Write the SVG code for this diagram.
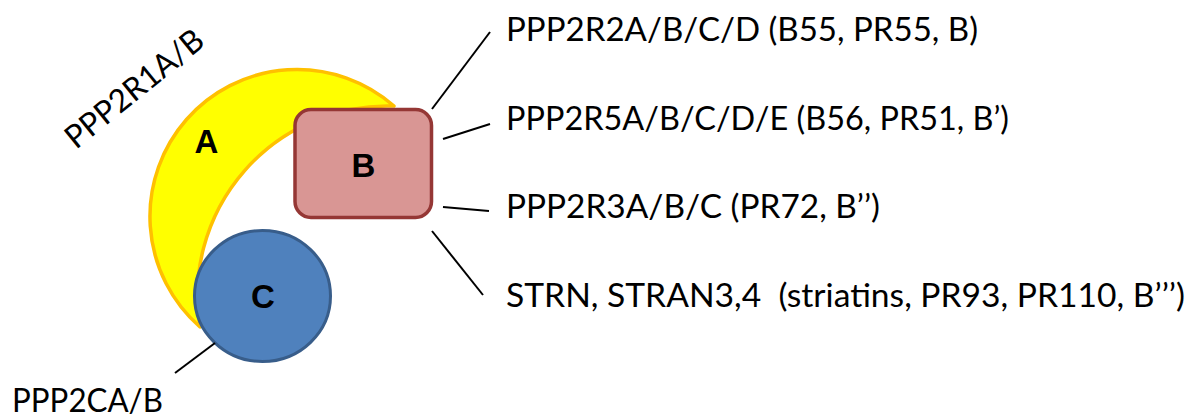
<svg xmlns="http://www.w3.org/2000/svg" width="1200" height="419" viewBox="0 0 1200 419">
  <style>
    .lbl { font-family: Lato, "Open Sans", "Liberation Sans", sans-serif; font-size: 32px; fill: #000; white-space: pre; }
    .sub { font-family: "Liberation Sans", Arial, sans-serif; font-weight: bold; font-size: 33px; fill: #000; text-anchor: middle; }
    .conn { stroke: #000; stroke-width: 2; fill: none; }
  </style>
  <rect width="1200" height="419" fill="#fff"/>

  <g id="node-A">
    <path d="M200,327 A146,146 0 1 1 394,106 A190,190 0 0 0 200,327 Z" fill="#FFFF00" stroke="#FFC000" stroke-width="3.5" stroke-linejoin="round"/>
    <text class="sub" x="206.5" y="152.5">A</text>
    <text class="lbl" x="76" y="150" transform="rotate(-39 76 150)" textLength="168" lengthAdjust="spacingAndGlyphs">PPP2R1A/B</text>
  </g>

  <g id="node-B">
    <rect x="295" y="109.5" width="136.5" height="108" rx="16" ry="16" fill="#D99694" stroke="#953735" stroke-width="3.5"/>
    <text class="sub" x="363.5" y="176.5">B</text>
  </g>

  <g id="node-C">
    <ellipse cx="262.5" cy="296" rx="68" ry="65.5" fill="#4F81BD" stroke="#385D8A" stroke-width="3"/>
    <text class="sub" x="263" y="308">C</text>
  </g>

  <g id="connectors">
    <line class="conn" x1="432" y1="109" x2="490" y2="32"/>
    <line class="conn" x1="443" y1="139" x2="490" y2="124"/>
    <line class="conn" x1="443" y1="207" x2="489" y2="211"/>
    <line class="conn" x1="432" y1="231" x2="483" y2="295"/>
    <line class="conn" x1="175" y1="373" x2="215" y2="343"/>
  </g>

  <g id="label-PPP2CA">
    <text class="lbl" x="12" y="412" textLength="151" lengthAdjust="spacingAndGlyphs">PPP2CA/B</text>
  </g>
  <g id="label-B55">
    <text class="lbl" x="506" y="41" textLength="472" lengthAdjust="spacingAndGlyphs">PPP2R2A/B/C/D (B55, PR55, B)</text>
  </g>
  <g id="label-B56">
    <text class="lbl" x="506" y="130" textLength="503" lengthAdjust="spacingAndGlyphs">PPP2R5A/B/C/D/E (B56, PR51, B’)</text>
  </g>
  <g id="label-PR72">
    <text class="lbl" x="506" y="218" textLength="374" lengthAdjust="spacingAndGlyphs">PPP2R3A/B/C (PR72, B’’)</text>
  </g>
  <g id="label-striatins">
    <text class="lbl" x="506" y="307" xml:space="preserve" textLength="679" lengthAdjust="spacingAndGlyphs">STRN, STRAN3,4  (striatins, PR93, PR110, B’’’)</text>
  </g>
</svg>
